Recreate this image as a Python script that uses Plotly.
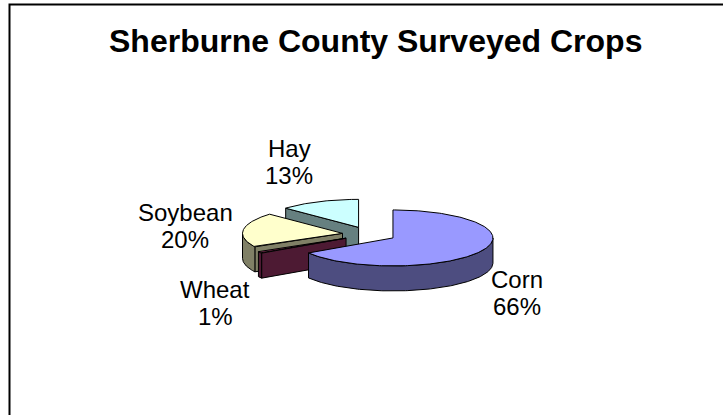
import numpy as np
import plotly.graph_objects as go

# Survey data (share of surveyed acreage, %)
crops = ["Corn", "Wheat", "Soybean", "Hay"]
shares = [66, 1, 20, 13]

# Styling
top_colors = ["#9999FF", "#993366", "#FFFFCC", "#CCFFFF"]
side_colors = ["#4D4D80", "#4D1A33", "#808066", "#668080"]

# Canvas / pie geometry (pixel units of the drawing area)
W, H = 723, 415
CX, CY = 369.3, 234.3      # pie centre
RX, RY = 100.0, 28.0       # ellipse radii of the tilted disc
DEPTH = 25.0               # thickness of the disc
EXPLODE = 0.27             # slice offset as a fraction of the radius

# label anchor points (centre of each text line)
label_xy = {"Corn": (517, 279), "Wheat": (215, 289),
            "Soybean": (185, 212), "Hay": (289, 148)}
LINE_GAP = 27


def rim(cx, cy, t, dz=0.0):
    r = np.radians(t)
    return cx + RX * np.sin(r), cy - RY * np.cos(r) + dz


def arc(cx, cy, a0, a1, dz=0.0):
    n = max(2, int(abs(a1 - a0) / 1.0) + 2)
    t = np.radians(np.linspace(a0, a1, n))
    return list(cx + RX * np.sin(t)), list(cy - RY * np.cos(t) + dz)


def poly_trace(xs, ys, fill):
    xs = list(xs) + [xs[0]]
    ys = list(ys) + [ys[0]]
    return go.Scatter(x=xs, y=ys, mode="lines", fill="toself",
                      fillcolor=fill, line=dict(color="black", width=1),
                      hoverinfo="skip", showlegend=False)


total = float(sum(shares))
angles = np.cumsum([0] + [360.0 * v / total for v in shares])
slices = []
for i, name in enumerate(crops):
    a0, a1 = angles[i], angles[i + 1]
    mid = np.radians((a0 + a1) / 2)
    cx = CX + EXPLODE * RX * np.sin(mid)
    cy = CY - EXPLODE * RY * np.cos(mid)
    slices.append((i, name, a0, a1, cx, cy))

fig = go.Figure()

# draw from the back slice to the front slice
for i, name, a0, a1, cx, cy in reversed(slices):
    side = side_colors[i]
    # radial face on the leading edge
    if 180 < a0 % 360 < 360:
        px, py = rim(cx, cy, a0)
        fig.add_trace(poly_trace([cx, px, px, cx],
                                 [cy, py, py + DEPTH, cy + DEPTH], side))
    # radial face on the trailing edge
    if 0 < a1 % 360 < 180:
        px, py = rim(cx, cy, a1)
        fig.add_trace(poly_trace([cx, px, px, cx],
                                 [cy, py, py + DEPTH, cy + DEPTH], side))
    # outer curved wall (front half only)
    b0, b1 = max(a0, 90.0), min(a1, 270.0)
    if b1 > b0:
        tx, ty = arc(cx, cy, b0, b1)
        bx, by = arc(cx, cy, b1, b0, DEPTH)
        fig.add_trace(poly_trace(tx + bx, ty + by, side))
    # top face
    tx, ty = arc(cx, cy, a0, a1)
    fig.add_trace(poly_trace([cx] + tx, [cy] + ty, top_colors[i]))

# data labels
for i, name in enumerate(crops):
    lx, ly = label_xy[name]
    pct = f"{round(100 * shares[i] / total)}%"
    for k, txt in enumerate([name, pct]):
        fig.add_annotation(x=lx, y=ly + k * LINE_GAP, text=txt,
                           showarrow=False, xanchor="center", yanchor="middle",
                           font=dict(family="Liberation Sans, Arial", size=24,
                                     color="black"))

# title
fig.add_annotation(x=375, y=41, text="<b>Sherburne County Surveyed Crops</b>",
                   showarrow=False, xanchor="center", yanchor="middle",
                   font=dict(family="Liberation Sans, Arial", size=32,
                             color="black"))

# chart frame
fig.add_shape(type="rect", xref="paper", yref="paper",
              x0=9.5 / W, x1=1.2, y0=1 - 4.5 / H, y1=-0.2,
              line=dict(color="black", width=2))

fig.update_layout(
    width=W, height=H,
    margin=dict(l=0, r=0, t=0, b=0),
    paper_bgcolor="white", plot_bgcolor="white",
    xaxis=dict(range=[0, W], visible=False, fixedrange=True),
    yaxis=dict(range=[H, 0], visible=False, fixedrange=True),
    showlegend=False,
)

fig.write_html("out.html")
